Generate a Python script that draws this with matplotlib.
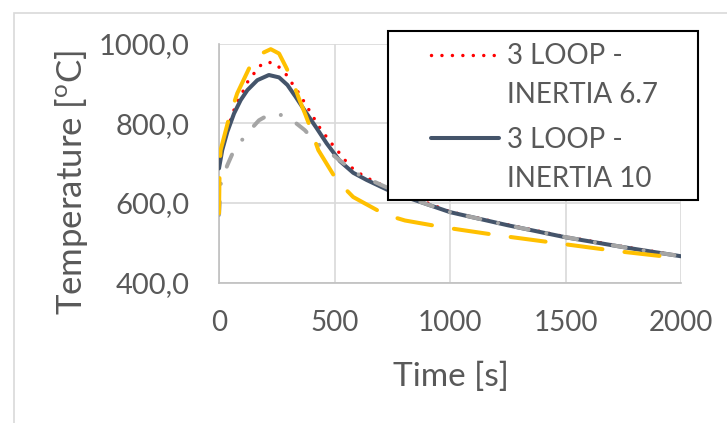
import matplotlib
matplotlib.use("Agg")
import matplotlib.pyplot as plt
from matplotlib.lines import Line2D
from matplotlib.patches import Rectangle

plt.rcParams["font.family"] = ["Lato", "DejaVu Sans"]

# ---- data ----
t_in67 = [0, 30, 65, 82, 105, 126, 149, 177, 209, 245, 274, 303, 325, 356, 375, 401,
          423, 452, 478, 506, 567, 630, 726, 1000, 1250, 1500, 1750, 2000]
y_in67 = [708, 775, 834, 857, 882, 907, 924, 945, 955, 950, 934, 915, 892, 869, 846, 825,
          800, 777, 756, 737, 692, 666, 640, 578, 545, 515, 490, 467]

t_in10 = [0, 14, 36, 65, 94, 123, 166, 216, 260, 296, 332, 375, 423, 466, 524, 581,
          639, 726, 784, 1000, 1250, 1498, 1750, 2000]
y_in10 = [687, 733, 779, 825, 859, 884, 909, 922, 916, 897, 867, 829, 788, 750, 705, 676,
          658, 634, 620, 577, 544, 514, 489, 466]

t_gray = [0, 8, 36, 58, 115, 173, 224, 265, 307, 372, 416, 495, 596, 704, 850, 1000,
          1250, 1500, 1750, 2000]
y_gray = [570, 650, 695, 724, 771, 808, 825, 822, 813, 783, 754, 720, 674, 645, 607, 577,
          544, 514, 489, 466]

t_yel = [0, 3, 7, 43, 79, 137, 180, 224, 260, 289, 317, 346, 375, 397, 430, 510, 581,
         719, 805, 971, 1216, 1476, 1722, 1981, 2000]
y_yel = [574, 700, 733, 813, 876, 947, 975, 987, 976, 943, 909, 863, 821, 787, 733, 657, 615,
         571, 556, 539, 518, 498, 479, 462, 461]

x_ticks = [0, 500, 1000, 1500, 2000]
y_ticks = [400, 600, 800, 1000]
y_tick_labels = ["400,0", "600,0", "800,0", "1000,0"]
legend_labels = [("3 LOOP -", "INERTIA 6.7"), ("3 LOOP -", "INERTIA 10")]

TXT = "#595959"
RED = "#FF0000"
BLUE = "#44546A"
GRAY = "#A5A5A5"
YEL = "#FFC000"

W, H = 727, 423
fig = plt.figure(figsize=(W / 100, H / 100), dpi=100)
ax = fig.add_axes([219 / W, 1 - 282.5 / H, (681 - 219) / W, (282.5 - 44) / H])

ax.plot(t_in67, y_in67, color=RED, lw=2.5, dashes=(0.01, 3.0),
        dash_capstyle="round", zorder=3)
ax.plot(t_in10, y_in10, color=BLUE, lw=2.9, solid_capstyle="round",
        solid_joinstyle="round", zorder=4)
ax.plot(t_gray, y_gray, color=GRAY, lw=2.9, dashes=(3.25, 4.5, 0.01, 4.5),
        dash_capstyle="round", dash_joinstyle="round", zorder=5)
ax.plot(t_yel, y_yel, color=YEL, lw=2.9, dashes=(8.75, 5.5),
        dash_capstyle="round", dash_joinstyle="round", zorder=6)

ax.set_xlim(0, 2000)
ax.set_ylim(400, 1000)
ax.set_xticks(x_ticks)
ax.set_yticks(y_ticks)
ax.set_yticklabels(y_tick_labels)
ax.tick_params(axis="both", length=0, colors=TXT)
ax.tick_params(axis="y", labelsize=21, pad=21)
ax.tick_params(axis="x", labelsize=20, pad=20)
ax.grid(True, color="#D9D9D9", lw=1.2)
ax.set_axisbelow(True)
for side in ["top", "right"]:
    ax.spines[side].set_visible(False)
for side in ["left", "bottom"]:
    ax.spines[side].set_color("#BFBFBF")
    ax.spines[side].set_linewidth(1.2)

fig.text(451 / W, 1 - 377 / H, "Time [s]", fontsize=24, color=TXT,
         ha="center", va="center")
fig.text(71 / W, 1 - 182 / H, "Temperature [$^\\mathregular{o}$C]", fontsize=25,
         color=TXT, ha="center", va="center", rotation=90)

# chart area border (only left/top visible in the crop)
fig.patches.append(Rectangle((14 / W, -0.1), 1.0, 1 - 13 / H + 0.1, fill=False,
                             edgecolor="#D9D9D9", lw=1.2,
                             transform=fig.transFigure, figure=fig))

# legend box drawn by hand so handles sit on the first text line
fig.patches.append(Rectangle((388 / W, 1 - 200 / H), (698 - 388) / W, (200 - 31) / H,
                             facecolor="white", edgecolor="black", lw=1.5,
                             transform=fig.transFigure, figure=fig, zorder=10))
fig.lines.append(Line2D([431 / W, 497 / W], [1 - 55 / H] * 2, color=RED, lw=2.5,
                        dashes=(0.01, 3.0), dash_capstyle="round",
                        transform=fig.transFigure, zorder=11))
fig.lines.append(Line2D([431 / W, 499 / W], [1 - 138 / H] * 2, color=BLUE, lw=2.9,
                        solid_capstyle="round", transform=fig.transFigure, zorder=11))
for (l1, l2), b1, b2 in zip(legend_labels, [64, 148], [103, 187]):
    fig.text(507 / W, 1 - b1 / H, l1, fontsize=20, color=TXT, va="baseline", zorder=12)
    fig.text(507 / W, 1 - b2 / H, l2, fontsize=20, color=TXT, va="baseline", zorder=12)

fig.savefig("out.png", dpi=100, facecolor="white")
